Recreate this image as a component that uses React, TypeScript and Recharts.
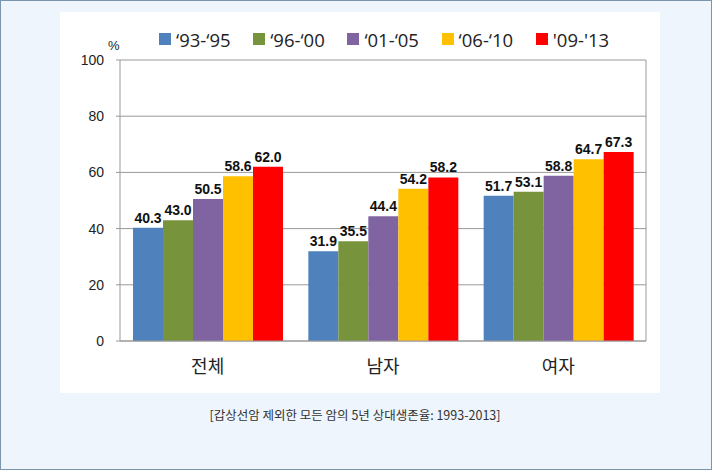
import { Bar, BarChart, CartesianGrid, LabelList, XAxis, YAxis } from 'recharts'

const CATEGORIES = ['전체', '남자', '여자']
const PERIODS = ['‘93-‘95', '‘96-‘00', '‘01-‘05', '‘06-‘10', "'09-'13"]
const P1 = [40.3, 31.9, 51.7]
const P2 = [43.0, 35.5, 53.1]
const P3 = [50.5, 44.4, 58.8]
const P4 = [58.6, 54.2, 64.7]
const P5 = [62.0, 58.2, 67.3]
const Y_TICKS = [0, 20, 40, 60, 80, 100]
const CAPTION = '[갑상선암 제외한 모든 암의 5년 상대생존율: 1993-2013]'

const COLORS = ['#4f81bd', '#77933c', '#8064a2', '#ffc000', '#ff0000']
const SERIES = [P1, P2, P3, P4, P5]
const KEYS = ['p1', 'p2', 'p3', 'p4', 'p5']

const data = CATEGORIES.map((name, i) => {
  const row: Record<string, string | number> = { name }
  SERIES.forEach((s, j) => {
    row[KEYS[j]] = s[i]
  })
  return row
})

const LATIN = '"Open Sans", "Noto Sans CJK KR", sans-serif'
const ARIAL = '"Liberation Sans", Arial, sans-serif'

export default function App() {
  return (
    <div
      style={{
        position: 'absolute',
        left: 0,
        top: 0,
        width: 712,
        height: 470,
        boxSizing: 'border-box',
        border: '1px solid #7b95ad',
        background: '#eef5fc',
      }}
    >
      <div
        style={{
          position: 'absolute',
          left: 59,
          top: 11,
          width: 600,
          height: 381,
          background: '#ffffff',
        }}
      >
        <div
          style={{
            position: 'absolute',
            left: 0,
            top: 14,
            width: 600,
            height: 26,
            fontFamily: LATIN,
            fontSize: 18.5,
            color: '#222',
          }}
        >
          {PERIODS.map((p, i) => (
            <div
              key={p}
              style={{
                position: 'absolute',
                left: 99 + i * 94.2,
                top: 0,
                display: 'flex',
                alignItems: 'center',
                height: 26,
                whiteSpace: 'nowrap',
              }}
            >
              <span style={{ width: 12, height: 12, background: COLORS[i], marginRight: 5, display: 'inline-block' }} />
              <span>{p}</span>
            </div>
          ))}
        </div>
        <div
          style={{
            position: 'absolute',
            left: 48,
            top: 26,
            fontFamily: ARIAL,
            fontSize: 13,
            color: '#222',
          }}
        >
          %
        </div>
        <BarChart
          width={600}
          height={381}
          data={data}
          barGap={0}
          barCategoryGap={13}
          margin={{ top: 48, right: 14, left: 10, bottom: 22 }}
          style={{ position: 'absolute', left: 0, top: 0 }}
        >
          <CartesianGrid
            stroke="#999"
            vertical={true}
            verticalCoordinatesGenerator={({ offset }: any) => [offset.left + offset.width]}
          />
          <XAxis
            xAxisId="b"
            type="number"
            domain={[0, 3]}
            ticks={[0, 1, 2, 3]}
            allowDataOverflow
            height={0}
            tick={false}
            axisLine={false}
            tickLine={{ stroke: '#999' }}
            tickSize={6}
          />
          <XAxis
            dataKey="name"
            height={30}
            axisLine={{ stroke: '#999' }}
            tickLine={false}
            tickSize={0}
            tickMargin={19}
            tick={{ fontSize: 18, fill: '#222', fontFamily: LATIN }}
          />
          <YAxis
            width={50}
            domain={[0, 100]}
            ticks={Y_TICKS}
            axisLine={{ stroke: '#999' }}
            tickLine={{ stroke: '#999' }}
            tickSize={4}
            tickMargin={12}
            tick={{ fontSize: 14, fill: '#222', fontFamily: ARIAL }}
          />
          {KEYS.map((k, i) => (
            <Bar key={k} dataKey={k} fill={COLORS[i]} isAnimationActive={false}>
              <LabelList
                dataKey={k}
                position="top"
                offset={5}
                formatter={(v: any) => Number(v).toFixed(1)}
                style={{ fontSize: 14, fontWeight: 'bold', fill: '#111', fontFamily: ARIAL }}
              />
            </Bar>
          ))}
        </BarChart>
      </div>
      <div
        style={{
          position: 'absolute',
          left: 0,
          top: 404,
          width: 708,
          textAlign: 'center',
          fontFamily: '"Noto Sans CJK KR", sans-serif',
          fontSize: 12.5,
          color: '#333',
        }}
      >
        {CAPTION}
      </div>
    </div>
  )
}
